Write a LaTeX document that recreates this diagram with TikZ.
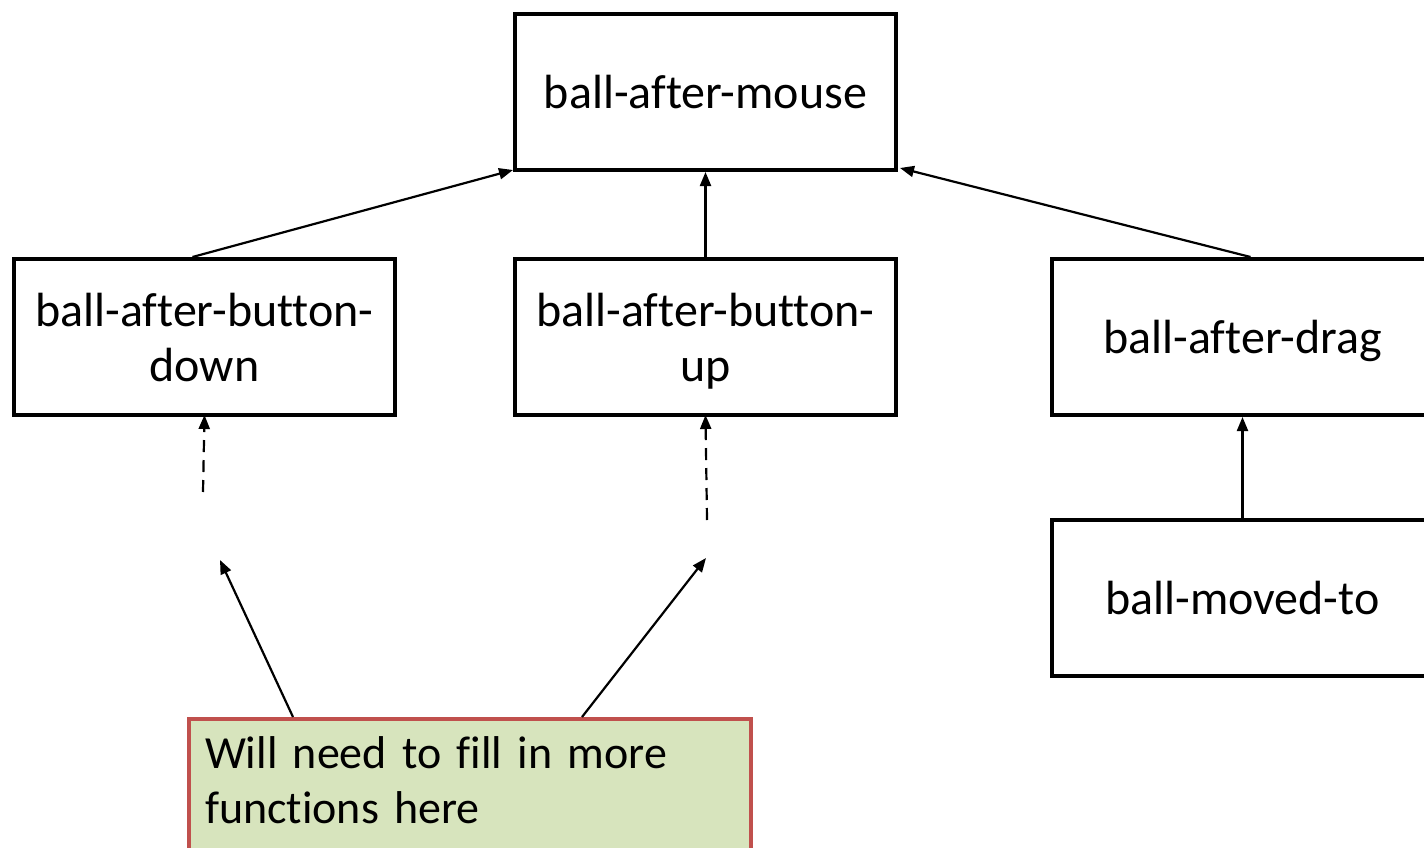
\documentclass[tikz,border=0pt]{standalone}
\usepackage{fontspec}
\setmainfont[Ligatures={NoCommon}]{Carlito}
\usetikzlibrary{arrows.meta}
\definecolor{notefill}{HTML}{D7E4BD}
\definecolor{noteline}{HTML}{C0504D}
\newcommand{\nodepth}[1]{\raisebox{0pt}[\height][0pt]{#1}}
\tikzset{
  fnbox/.style={draw=black, line width=4pt, minimum width=381pt, minimum height=156pt, align=center, inner sep=0pt, font=\fontsize{48}{55}\selectfont},
  notebox/.style={draw=noteline, fill=notefill, line width=4pt, anchor=north west, text width=530pt, align=left, inner xsep=16pt, inner ysep=18pt, font=\fontsize{46}{55}\selectfont},
  conn/.style={draw=black, line width=2.2pt, -{Triangle[length=14pt,width=11pt]}},
  dconn/.style={conn, dash pattern=on 12pt off 8pt}
}
\begin{document}
\begin{tikzpicture}[x=1pt,y=-1pt]
\useasboundingbox (0,0) rectangle (1424,848);
\clip (0,0) rectangle (1424,848);
\node[fnbox] (top) at (705.5,92) {ball-after-mouse};
\node[fnbox] (bdown) at (204.5,337) {ball-after-button-\\down};
\node[fnbox] (bup) at (705.5,337) {ball-after-button-\\\nodepth{up}};
\node[fnbox] (drag) at (1242.5,337) {\nodepth{ball-after-drag}};
\node[fnbox] (moved) at (1242.5,598) {ball-moved-to};
\node[notebox] (note) at (187,717) {Will need to fill in more functions here\rule[-45pt]{0pt}{1pt}};
\coordinate (d1) at (203,492);
\coordinate (d2) at (707,520);
\coordinate (t1) at (220,560);
\coordinate (t2) at (706,558);
\draw[conn] ([xshift=-12pt]bdown.north) -- ([yshift=2pt]top.south west);
\draw[conn] (bup.north) -- (top.south);
\draw[conn] ([xshift=8pt]drag.north) -- ([xshift=2pt,yshift=4pt]top.south east);
\draw[conn] (moved.north) -- (drag.south);
\draw[dconn] (d1) -- ([yshift=2pt]bdown.south);
\draw[dconn] (d2) -- ([yshift=2pt]bup.south);
\draw[conn] ([xshift=106pt]note.north west) -- (t1);
\draw[conn] ([xshift=395pt]note.north west) -- (t2);
\end{tikzpicture}
\end{document}
